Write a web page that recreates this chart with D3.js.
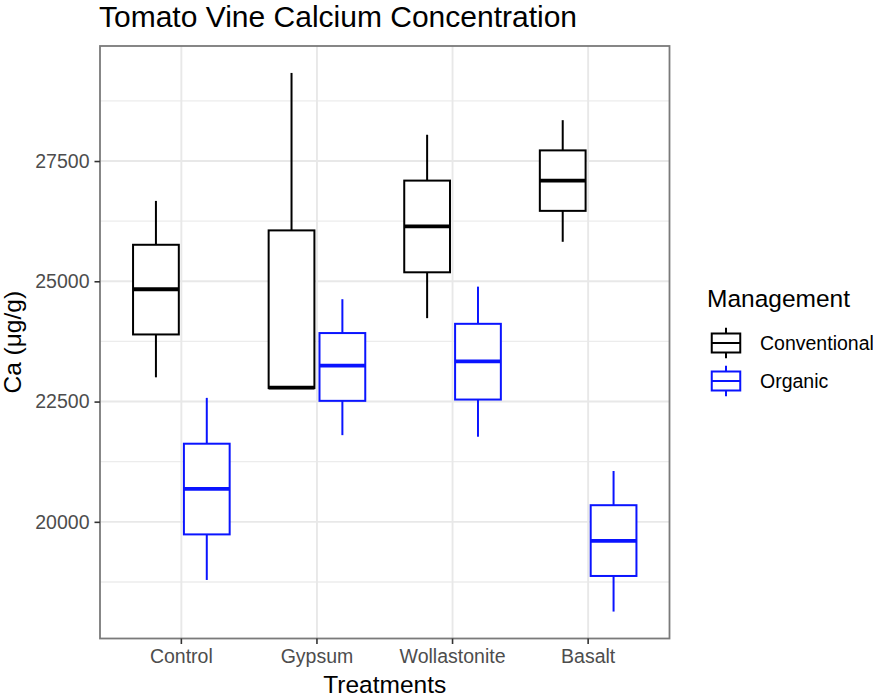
<!DOCTYPE html>
<html>
<head>
<meta charset="utf-8">
<script src="https://cdn.jsdelivr.net/npm/d3@7"></script>
<style>
    body { margin: 0; background: #fff; }
    text { font-family: "Liberation Sans", Arial, sans-serif; }
</style>
</head>
<body>
<div id="chart"></div>
<script>
const treatments = ["Control", "Gypsum", "Wollastonite", "Basalt"]
const managements = ["Conventional", "Organic"]
const colors = ["#000000", "#0a14ff"]

// [lower whisker, q1, median, q3, upper whisker] per treatment
const conventional = [
    [23004, 23895, 24835, 25759, 26671],
    [22780, 22780, 22790, 26058, 29331],
    [24234, 25187, 26141, 27093, 28046],
    [25821, 26464, 27093, 27721, 28349]
]
const organic = [
    [18792, 19739, 20684, 21624, 22577],
    [21802, 22515, 23246, 23924, 24628],
    [21769, 22542, 23335, 24116, 24889],
    [18135, 18875, 19606, 20346, 21057]
]

const yTicks = [20000, 22500, 25000, 27500]
const yMinorTicks = [18750, 21250, 23750, 26250, 28750]

const margin = { top: 46, right: 203.5, bottom: 58.5, left: 100 }
const width = 873 - margin.left - margin.right,
    height = 697 - margin.top - margin.bottom;

const root = d3.select("#chart")
    .append("svg")
    .attr("width", 873)
    .attr("height", 697)

const svg = root.append("g")
    .attr("transform", "translate(" + margin.left + "," + margin.top + ")")

// flatten the box stats so each box is one datum
const boxes = []
managements.forEach((m, mi) => {
    const src = mi === 0 ? conventional : organic
    treatments.forEach((t, ti) => {
        const s = src[ti]
        boxes.push({ treatment: t, management: m, lo: s[0], q1: s[1], med: s[2], q3: s[3], hi: s[4] })
    })
})

// scales (ggplot-like padding)
const xScale = d3.scaleBand().domain(treatments).range([0, width]).paddingInner(0.25).paddingOuter(0.225)
const xInner = d3.scaleBand().domain(managements).range([0, xScale.bandwidth()]).paddingInner(0.1).paddingOuter(0.05)
const colorScale = d3.scaleOrdinal().domain(managements).range(colors)

const yMin = d3.min(boxes, d => d.lo), yMax = d3.max(boxes, d => d.hi)
const pad = (yMax - yMin) * 0.05
const yScale = d3.scaleLinear().domain([yMin - pad, yMax + pad]).range([height, 0])

// grid
svg.append("g").selectAll("line")
    .data(yMinorTicks)
    .enter().append("line")
    .attr("x1", 0).attr("x2", width)
    .attr("y1", d => yScale(d)).attr("y2", d => yScale(d))
    .attr("stroke", "#ececec").attr("stroke-width", 1.3)

svg.append("g").selectAll("line")
    .data(yTicks)
    .enter().append("line")
    .attr("x1", 0).attr("x2", width)
    .attr("y1", d => yScale(d)).attr("y2", d => yScale(d))
    .attr("stroke", "#e8e8e8").attr("stroke-width", 1.9)

svg.append("g").selectAll("line")
    .data(treatments)
    .enter().append("line")
    .attr("x1", d => xScale(d) + xScale.bandwidth() / 2)
    .attr("x2", d => xScale(d) + xScale.bandwidth() / 2)
    .attr("y1", 0).attr("y2", height)
    .attr("stroke", "#e8e8e8").attr("stroke-width", 1.9)

// boxplots
const g = svg.append("g").selectAll("g")
    .data(boxes)
    .enter().append("g")
    .attr("transform", d => "translate(" + (xScale(d.treatment) + xInner(d.management)) + ",0)")
    .attr("stroke", d => colorScale(d.management))
    .attr("fill", "none")

const bw = xInner.bandwidth()

g.append("line")
    .attr("x1", bw / 2).attr("x2", bw / 2)
    .attr("y1", d => yScale(d.hi)).attr("y2", d => yScale(d.q3))
    .attr("stroke-width", 2)

g.append("line")
    .attr("x1", bw / 2).attr("x2", bw / 2)
    .attr("y1", d => yScale(d.q1)).attr("y2", d => yScale(d.lo))
    .attr("stroke-width", 2)

g.append("rect")
    .attr("x", 0).attr("width", bw)
    .attr("y", d => yScale(d.q3))
    .attr("height", d => yScale(d.q1) - yScale(d.q3))
    .attr("fill", "#fff")
    .attr("stroke-width", 2)

g.append("line")
    .attr("x1", 0).attr("x2", bw)
    .attr("y1", d => yScale(d.med)).attr("y2", d => yScale(d.med))
    .attr("stroke-width", 3.8)

// panel border
svg.append("rect")
    .attr("width", width).attr("height", height)
    .attr("fill", "none").attr("stroke", "#7a7a7a").attr("stroke-width", 1.8)

// axes
const yAxis = d3.axisLeft(yScale).tickValues(yTicks).tickSize(5.5).tickPadding(5).tickFormat(d => d)
const yG = svg.append("g").call(yAxis)
const xAxis = d3.axisBottom(xScale).tickSize(5.5).tickPadding(5)
const xG = svg.append("g").attr("transform", "translate(0," + height + ")").call(xAxis)

;[yG, xG].forEach(a => {
    a.select(".domain").remove()
    a.selectAll(".tick line").attr("stroke", "#333").attr("stroke-width", 1.6)
    a.selectAll(".tick text")
        .attr("fill", "#4d4d4d")
        .style("font-size", "19.5px")
        .style("font-family", "\"Liberation Sans\", Arial, sans-serif")
})

// titles
root.append("text")
    .text("Tomato Vine Calcium Concentration")
    .attr("x", 99).attr("y", 27)
    .style("font-size", "30px")

root.append("text")
    .text("Treatments")
    .attr("x", margin.left + width / 2).attr("y", 693)
    .attr("text-anchor", "middle")
    .style("font-size", "24.5px")

root.append("text")
    .text("Ca (μg/g)")
    .attr("transform", "translate(21," + (margin.top + height / 2) + ") rotate(-90)")
    .attr("text-anchor", "middle")
    .style("font-size", "24.5px")

// legend
const legend = root.append("g").attr("transform", "translate(707,0)")
legend.append("text")
    .text("Management")
    .attr("x", 0).attr("y", 307)
    .style("font-size", "24.5px")

const keySize = 38
const keys = legend.selectAll(".key")
    .data(managements)
    .enter().append("g")
    .attr("class", "key")
    .attr("transform", (d, i) => "translate(0," + (324 + i * keySize) + ")")
    .attr("stroke", d => colorScale(d))
    .attr("fill", "none")

keys.append("line")
    .attr("x1", keySize / 2).attr("x2", keySize / 2)
    .attr("y1", keySize * 0.1).attr("y2", keySize * 0.9)
    .attr("stroke-width", 2)
keys.append("rect")
    .attr("x", keySize * 0.125).attr("width", keySize * 0.75)
    .attr("y", keySize * 0.25).attr("height", keySize * 0.5)
    .attr("fill", "#fff").attr("stroke-width", 2)
keys.append("line")
    .attr("x1", keySize * 0.125).attr("x2", keySize * 0.875)
    .attr("y1", keySize / 2).attr("y2", keySize / 2)
    .attr("stroke-width", 2)

keys.append("text")
    .text(d => d)
    .attr("x", 53).attr("y", keySize / 2 + 7)
    .attr("stroke", "none")
    .attr("fill", "#000")
    .style("font-size", "19.5px")
</script>
</body>
</html>
